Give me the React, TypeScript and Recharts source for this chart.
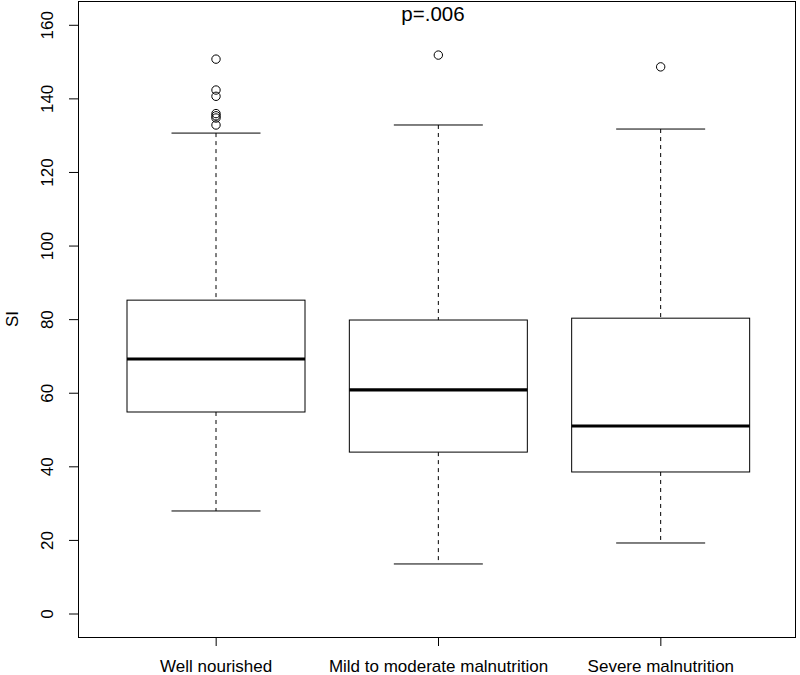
import { ComposedChart, Bar, XAxis, YAxis } from "recharts";

const categories = [
  "Well nourished",
  "Mild to moderate malnutrition",
  "Severe malnutrition",
];
const whiskerLow = [28.0, 13.6, 19.3];
const q1 = [54.9, 44.0, 38.6];
const median = [69.3, 60.9, 51.1];
const q3 = [85.3, 79.9, 80.4];
const whiskerHigh = [130.7, 132.9, 131.8];
const outliers = [
  [150.8, 142.4, 140.7, 136.0, 135.4, 134.8, 132.9],
  [151.9],
  [148.7],
];
const yTicks = [0, 20, 40, 60, 80, 100, 120, 140, 160];

const rows = categories.map((name, i) => ({
  name,
  range: [whiskerLow[i], whiskerHigh[i]],
  q1: q1[i],
  median: median[i],
  q3: q3[i],
  outliers: outliers[i],
}));

const font = "'Liberation Sans', Arial, Helvetica, sans-serif";

// draws one box: whiskers, box, median, outliers
const BoxShape = (props: any) => {
  const { x, y, width, height, payload } = props;
  const [lo, hi] = payload.range;
  const top = Math.min(y, y + height);
  const h = Math.abs(height);
  const py = (v: number) => top + ((hi - v) / (hi - lo)) * h;
  const cx = x + width / 2;
  const cap = width / 4;

  return (
    <g>
      <line x1={cx} x2={cx} y1={py(hi)} y2={py(payload.q3)} stroke="#000" strokeDasharray="4 4" />
      <line x1={cx} x2={cx} y1={py(payload.q1)} y2={py(lo)} stroke="#000" strokeDasharray="4 4" />
      <line x1={cx - cap} x2={cx + cap} y1={py(hi)} y2={py(hi)} stroke="#000" />
      <line x1={cx - cap} x2={cx + cap} y1={py(lo)} y2={py(lo)} stroke="#000" />
      <rect
        x={x}
        y={py(payload.q3)}
        width={width}
        height={py(payload.q1) - py(payload.q3)}
        fill="#fff"
        stroke="#000"
      />
      <line x1={x} x2={x + width} y1={py(payload.median)} y2={py(payload.median)} stroke="#000" strokeWidth={3.2} />
      {payload.outliers.map((v: number, i: number) => (
        <circle key={i} cx={cx} cy={py(v)} r={4.2} fill="none" stroke="#000" />
      ))}
    </g>
  );
};

const YTick = ({ y, payload }: any) => (
  <text
    x={53}
    y={y}
    transform={`rotate(-90, 53, ${y})`}
    textAnchor="middle"
    fontSize={17}
    fontFamily={font}
    fill="#000"
  >
    {payload.value}
  </text>
);

const YLabel = ({ viewBox }: any) => (
  <text
    x={18}
    y={viewBox.y + viewBox.height / 2}
    transform={`rotate(-90, 18, ${viewBox.y + viewBox.height / 2})`}
    textAnchor="middle"
    fontSize={17}
    fontFamily={font}
    fill="#000"
  >
    SI
  </text>
);

export default function App() {
  return (
    <div style={{ position: "absolute", left: 0, top: 0, width: 800, height: 675, background: "#fff", fontFamily: font }}>
      <ComposedChart width={800} height={675} data={rows} margin={{ top: 1, right: 5, left: 0, bottom: 0 }}>
        <XAxis
          dataKey="name"
          height={38}
          padding={{ left: 27, right: 23 }}
          axisLine={false}
          tickSize={9}
          tickMargin={14}
          tickLine={{ stroke: "#000" }}
          tick={{ fill: "#000", fontSize: 17, fontFamily: font }}
          interval={0}
        />
        <YAxis
          width={78}
          domain={[-6.25, 166.6]}
          allowDataOverflow
          ticks={yTicks}
          axisLine={false}
          tickSize={9}
          tickLine={{ stroke: "#000" }}
          tick={<YTick />}
          label={<YLabel />}
        />
        <Bar dataKey="range" barSize={178} shape={<BoxShape />} isAnimationActive={false} />
      </ComposedChart>
      <div
        style={{
          position: "absolute",
          left: 78,
          top: 1,
          width: 718,
          height: 637,
          boxSizing: "border-box",
          border: "1px solid #000",
          pointerEvents: "none",
        }}
      />
      <div
        style={{
          position: "absolute",
          left: 333,
          width: 200,
          top: 2,
          textAlign: "center",
          fontSize: 20.5,
          lineHeight: "24px",
          color: "#000",
        }}
      >
        p=.006
      </div>
    </div>
  );
}
